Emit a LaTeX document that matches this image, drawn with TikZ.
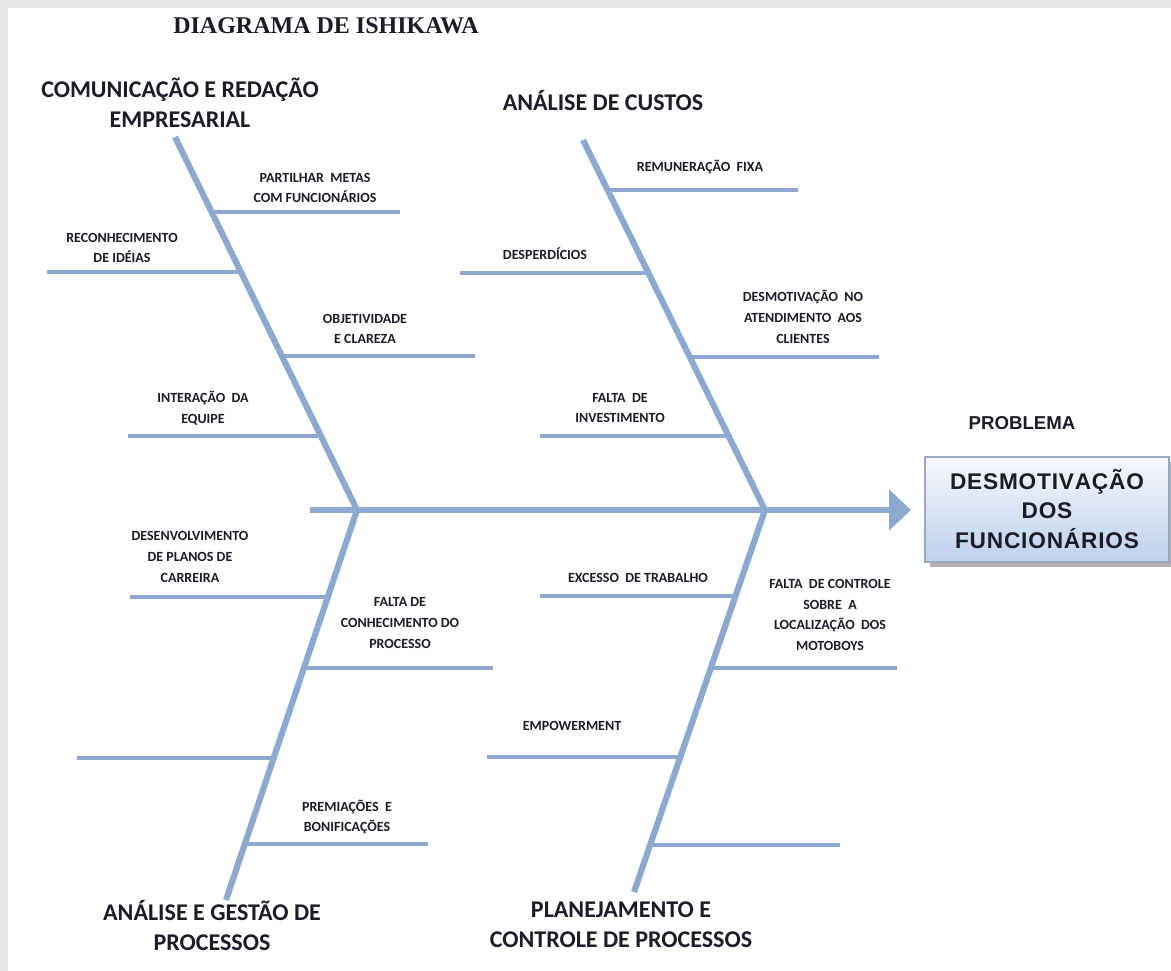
\documentclass[tikz,border=0pt]{standalone}
\usepackage{fontspec}
\setmainfont{Carlito}
\newfontfamily\arialb{Liberation Sans}
\newfontfamily\timesb{Liberation Serif}
\usetikzlibrary{arrows.meta}
\definecolor{bone}{HTML}{8EA9CF}
\definecolor{ink}{HTML}{1C1C28}
\definecolor{boxtop}{HTML}{F6F8FC}
\definecolor{boxbot}{HTML}{BDD0EC}
\definecolor{boxline}{HTML}{9AA9BF}
\definecolor{paper}{HTML}{E6E6E6}
\tikzset{
  bonestyle/.style={draw=bone, line width=4.6pt},
  twig/.style={draw=bone, line width=3.6pt},
  small/.style={font=\bfseries\fontsize{10.5}{15.5}\selectfont, text=ink, align=center, inner sep=0pt},
  cat/.style={font=\bfseries\fontsize{18}{22.5}\selectfont, text=ink, align=center, inner sep=0pt},
}
\begin{document}
\begin{tikzpicture}[x=0.75pt,y=-0.75pt]
\useasboundingbox (0,0) rectangle (1171,971);
\fill[paper] (0,0) rectangle (1171,971);
\fill[white] (8,8) rectangle (1171,971);

% title
\node[font=\timesb\bfseries\fontsize{18}{20}\selectfont, text=ink, inner sep=0pt] (title) at (326,26) {DIAGRAMA DE ISHIKAWA};

% spine
\coordinate (sL) at (310,510);
\coordinate (jL) at (357,510);
\coordinate (jR) at (765,510);
\coordinate (sR) at (911,510);
\draw[bonestyle, -{Triangle[length=16.5pt,width=30pt]}] (sL) -- (sR);

% bones
\coordinate (bLU) at (175,137);
\coordinate (bLD) at (226,900);
\coordinate (bRU) at (583,140);
\coordinate (bRD) at (634,892);
\draw[bonestyle] (bLU) -- (jL) -- (bLD);
\draw[bonestyle] (bRU) -- (jR) -- (bRD);

% left upper twigs
\coordinate (a1) at (212,212); \coordinate (a1e) at (400,212);
\coordinate (a2) at (241,272); \coordinate (a2e) at (47,272);
\coordinate (a3) at (282,356); \coordinate (a3e) at (475,356);
\coordinate (a4) at (321,436); \coordinate (a4e) at (128,436);
\draw[twig] (a1) -- (a1e);
\draw[twig] (a2) -- (a2e);
\draw[twig] (a3) -- (a3e);
\draw[twig] (a4) -- (a4e);

% left lower twigs
\coordinate (b1) at (328,597); \coordinate (b1e) at (130,597);
\coordinate (b2) at (303,668); \coordinate (b2e) at (493,668);
\coordinate (b3) at (273,758); \coordinate (b3e) at (77,758);
\coordinate (b4) at (243,844); \coordinate (b4e) at (428,844);
\draw[twig] (b1) -- (b1e);
\draw[twig] (b2) -- (b2e);
\draw[twig] (b3) -- (b3e);
\draw[twig] (b4) -- (b4e);

% right upper twigs
\coordinate (c1) at (608,190); \coordinate (c1e) at (798,190);
\coordinate (c2) at (648,273); \coordinate (c2e) at (460,273);
\coordinate (c3) at (690,357); \coordinate (c3e) at (879,357);
\coordinate (c4) at (729,436); \coordinate (c4e) at (540,436);
\draw[twig] (c1) -- (c1e);
\draw[twig] (c2) -- (c2e);
\draw[twig] (c3) -- (c3e);
\draw[twig] (c4) -- (c4e);

% right lower twigs
\coordinate (d1) at (736,596); \coordinate (d1e) at (540,596);
\coordinate (d2) at (712,668); \coordinate (d2e) at (897,668);
\coordinate (d3) at (682,757); \coordinate (d3e) at (487,757);
\coordinate (d4) at (651,845); \coordinate (d4e) at (840,845);
\draw[twig] (d1) -- (d1e);
\draw[twig] (d2) -- (d2e);
\draw[twig] (d3) -- (d3e);
\draw[twig] (d4) -- (d4e);

% category labels
\node[cat] (catA) at (180,103) {COMUNICAÇÃO E REDAÇÃO\\EMPRESARIAL};
\node[cat] (catB) at (603,101) {ANÁLISE DE CUSTOS};
\node[cat] (catC) at (212,925) {ANÁLISE E GESTÃO DE\\PROCESSOS};
\node[cat] (catD) at (621,925) {PLANEJAMENTO E\\CONTROLE DE PROCESSOS};

% twig labels
\node[small] (tA1) at (315,188) {PARTILHAR\ \ METAS\\COM FUNCIONÁRIOS};
\node[small] (tA2) at (122,248) {RECONHECIMENTO\\DE IDÉIAS};
\node[small] (tA3) at (365,329) {OBJETIVIDADE\\E CLAREZA};
\node[small] (tA4) at (203,408) {INTERAÇÃO\ \ DA\\EQUIPE};
\node[small] (tB1) at (190,557) {DESENVOLVIMENTO\\DE PLANOS DE\\CARREIRA};
\node[small] (tB2) at (400,623) {FALTA\ DE\\CONHECIMENTO\ DO\\PROCESSO};
\node[small] (tB4) at (347,817) {PREMIAÇÕES\ \ E\\BONIFICAÇÕES};
\node[small] (tC1) at (700,167) {REMUNERAÇÃO\ \ FIXA};
\node[small] (tC2) at (545,254) {DESPERDÍCIOS};
\node[small] (tC3) at (803,317) {DESMOTIVAÇÃO\ \ NO\\ATENDIMENTO\ \ AOS\\CLIENTES};
\node[small] (tC4) at (620,408) {FALTA\ \ DE\\INVESTIMENTO};
\node[small] (tD1) at (638,578) {EXCESSO\ \ DE TRABALHO};
\node[small] (tD2) at (830,615) {FALTA\ \ DE CONTROLE\\SOBRE\ \ A\\LOCALIZAÇÃO\ \ DOS\\MOTOBOYS};
\node[small] (tD3) at (572,726) {EMPOWERMENT};

% problem
\node[font=\arialb\bfseries\fontsize{14}{16}\selectfont, text=ink, inner sep=0pt] (prob) at (1022,423) {PROBLEMA};
\fill[black!30] (930,462) rectangle (1174,567);
\shade[top color=boxtop, bottom color=boxbot, draw=boxline, line width=0.8pt] (925,457) rectangle (1169,562);
\node[font=\arialb\bfseries\fontsize{17}{22}\selectfont, text=ink, align=center, inner sep=0pt] (effect) at (1047,509) {D\kern0.6pt E\kern0.6pt S\kern0.6pt M\kern0.6pt O\kern0.6pt T\kern0.6pt I\kern0.6pt V\kern0.6pt A\kern0.6pt Ç\kern0.6pt Ã\kern0.6pt O\\D\kern0.6pt O\kern0.6pt S\\F\kern0.6pt U\kern0.6pt N\kern0.6pt C\kern0.6pt I\kern0.6pt O\kern0.6pt N\kern0.6pt Á\kern0.6pt R\kern0.6pt I\kern0.6pt O\kern0.6pt S};
\end{tikzpicture}
\end{document}
